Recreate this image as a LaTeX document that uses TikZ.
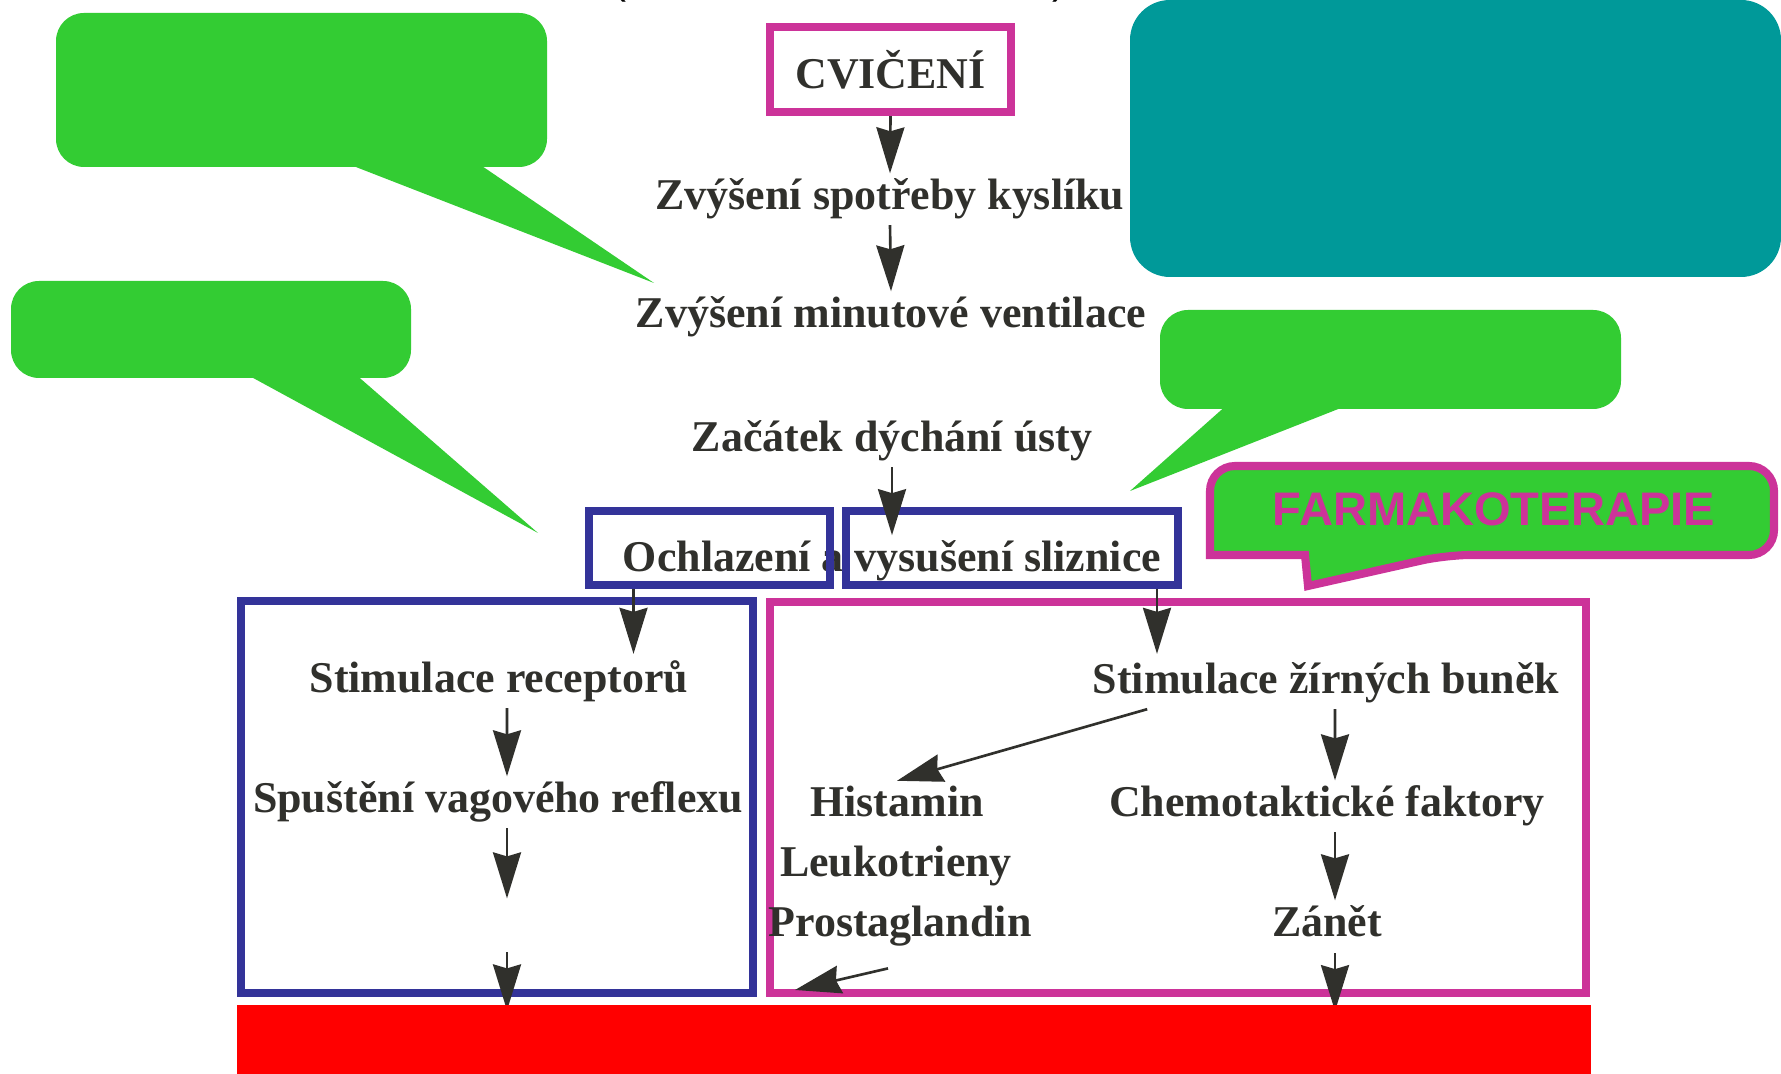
\documentclass[tikz,border=0pt]{standalone}
\usepackage{fontspec}
\setmainfont{Liberation Serif}
\newfontfamily\farmafont{Liberation Sans}
\usepackage{xcolor}
\usepackage{tikz}
\usetikzlibrary{arrows.meta}
\usetikzlibrary{positioning,calc}
\definecolor{callgreen}{RGB}{51,204,51}
\definecolor{boxteal}{RGB}{0,153,153}
\definecolor{farmapink}{RGB}{204,51,153}
\definecolor{frameblue}{RGB}{51,51,153}
\definecolor{inkgray}{RGB}{48,48,44}
\newcommand{\greenbubble}[3]{%
  \fill[callgreen,rounded corners=0.28cm] #1 rectangle #2;
  \fill[callgreen] #3 -- cycle;%
}

\begin{document}
\begin{tikzpicture}[
    lbl/.style={text=inkgray,font=\bfseries\fontsize{12.5}{15}\selectfont,
                inner sep=0.05cm,anchor=base},
    arr/.style={-{Stealth[length=4.6mm,width=2.8mm,inset=0.4mm]},
                line width=0.75pt,draw=inkgray},
    blueframe/.style={draw=frameblue,line width=2.2pt},
    pinkframe/.style={draw=farmapink,line width=2.3pt}]
    \useasboundingbox (0,0) rectangle (17.81,10.74);
    \fill[white] (0,0) rectangle (17.81,10.74);
    % cut-off line at the top
    \node[font=\farmafont\fontsize{12}{14}\selectfont,anchor=base] (lpar) at (6.20,10.80) {(};
    \node[font=\farmafont\fontsize{12}{14}\selectfont,anchor=base] (rpar) at (10.60,10.80) {)};
    % covered notes
    \fill[boxteal,rounded corners=0.4cm] (11.30,7.97) rectangle (17.81,10.74);
    \greenbubble{(0.56,9.07)}{(5.47,10.61)}{(3.43,9.12) -- (4.76,9.12) -- (6.54,7.91)}
    \greenbubble{(0.11,6.96)}{(4.11,7.93)}{(2.44,7.01) -- (3.54,7.01) -- (5.38,5.41)}
    \greenbubble{(11.60,6.65)}{(16.21,7.64)}{(12.28,6.70) -- (13.51,6.70) -- (11.30,5.83)}
    % main chain
    \node[lbl,anchor=center,pinkframe,minimum width=2.41cm,minimum height=0.85cm]
      (cviceni) at (8.905,10.045) {CVIČENÍ};
    \node[lbl] (spotreba) at (8.90,8.64) {Zvýšení spotřeby kyslíku};
    \node[lbl] (ventilace) at (8.91,7.46) {Zvýšení minutové ventilace};
    \node[lbl] (usta) at (8.92,6.22) {Začátek dýchání ústy};
    \node[lbl] (sliznice) at (8.92,5.02) {Ochlazení a vysušení sliznice};
    \node[blueframe,minimum width=2.41cm,minimum height=0.74cm] (ochl) at (7.095,5.26) {};
    \node[blueframe,minimum width=3.32cm,minimum height=0.74cm] (vysus) at (10.12,5.26) {};
    % two branches
    \draw[blueframe] (2.41,4.73) rectangle (7.53,0.81);
    \draw[pinkframe] (7.70,4.72) rectangle (15.86,0.81);
    \node[lbl] (receptory) at (4.99,3.81) {Stimulace receptorů};
    \node[lbl] (vagus) at (4.98,2.61) {Spuštění vagového reflexu};
    \node[lbl] (zirne) at (13.26,3.80) {Stimulace žírných buněk};
    \node[lbl] (histamin) at (8.97,2.57) {Histamin};
    \node[lbl] (leuko) at (8.96,1.97) {Leukotrieny};
    \node[lbl] (prosta) at (9.00,1.37) {Prostaglandin};
    \node[lbl] (chemo) at (13.27,2.57) {Chemotaktické faktory};
    \node[lbl] (zanet) at (13.27,1.37) {Zánět};
    % arrows
    \draw[arr] (cviceni.south) -- (spotreba.north);
    \draw[arr] (spotreba.south) -- (ventilace.north);
    \draw[arr] (usta.south) -- ++(0,-0.68);
    \draw[arr] ([xshift=-7.6mm]ochl.south) -- ++(0,-0.65);
    \draw[arr] ([xshift=14.5mm]vysus.south) -- ++(0,-0.65);
    \draw[arr] ([xshift=0.8mm]receptory.south) -- ([xshift=0.9mm]vagus.north);
    \draw[arr] ([xshift=0.9mm]vagus.south) -- ++(0,-0.70);
    \draw[arr] ([xshift=0.9mm,yshift=-12.4mm]vagus.south) -- ++(0,-0.58);
    \draw[arr] ([xshift=0.9mm]zirne.south) -- ([xshift=0.8mm]chemo.north);
    \draw[arr] ([xshift=0.8mm]chemo.south) -- ([xshift=0.8mm]zanet.north);
    \draw[arr] ([xshift=0.8mm,yshift=-1mm]zanet.south) -- ++(0,-0.58);
    \draw[arr] ([xshift=6mm]zirne.south west) -- (histamin.north);
    \coordinate (pgtip) at (7.95,0.84);
    \draw[arr] ([xshift=-1.2mm,yshift=-1.6mm]prosta.south) -- (pgtip);
    % drug note
    \draw[pinkframe,fill=callgreen,rounded corners=0.25cm] (14.5,6.08) -- (17.74,6.08)
      -- (17.74,5.19) -- (14.46,5.19) [sharp corners] -- (13.08,4.88) -- (13.05,5.19)
      -- (12.10,5.19) [rounded corners=0.25cm] -- (12.10,6.08) -- cycle;
    \node[text=farmapink,font=\farmafont\bfseries\fontsize{13.4}{16}\selectfont]
      (farma) at (14.94,5.65) {FARMAKOTERAPIE};
    % covered outcome
    \fill[red] (2.37,0.69) rectangle (15.91,-0.2);
\end{tikzpicture}
\end{document}
